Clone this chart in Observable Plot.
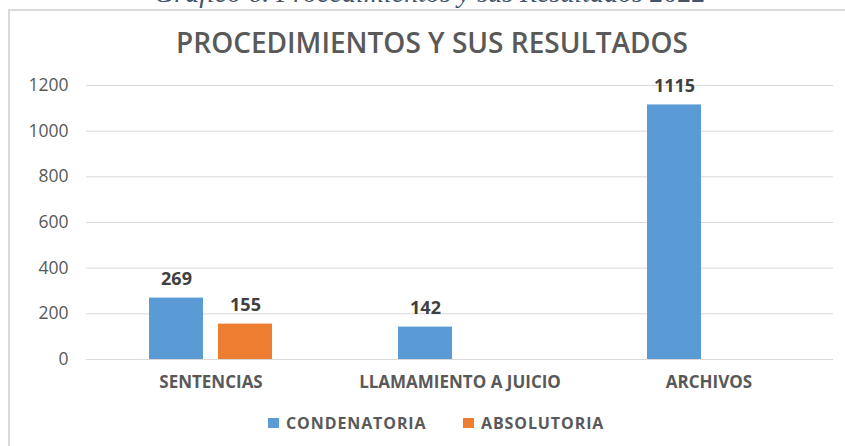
<!DOCTYPE html>
<html><head><meta charset="utf-8">
<script src="https://cdn.jsdelivr.net/npm/d3@7"></script>
<script src="https://cdn.jsdelivr.net/npm/@observablehq/plot@0.6"></script>
<style>
body{margin:0;background:#fff;font-family:"Open Sans",sans-serif;}
#page{position:relative;width:845px;height:446px;overflow:hidden;background:#fff;}
#caption{position:absolute;left:0;width:860px;text-align:center;top:-23px;font-family:"Liberation Serif",serif;font-style:italic;font-size:28px;color:#44546a;white-space:nowrap;}
#frame{position:absolute;left:8px;top:9px;width:900px;height:500px;border-left:2px solid #d9d9d9;border-top:2px solid #d9d9d9;}
#title{position:absolute;left:0;width:864px;text-align:center;top:25px;font-size:28px;line-height:34px;font-weight:600;color:#595959;white-space:nowrap;}
#chart{position:absolute;left:0;top:0;}
#legend{position:absolute;top:412px;left:0;width:845px;height:22px;}
.item{position:absolute;top:0;display:flex;align-items:center;height:22px;font-size:16px;font-weight:700;color:#595959;letter-spacing:0.9px;white-space:nowrap;}
.sw{width:11px;height:10px;margin-right:7px;}
</style></head>
<body>
<div id="page">
<div id="caption">Gráfico 6. Procedimientos y sus Resultados 2022</div>
<div id="frame"></div>
<div id="title">PROCEDIMIENTOS Y SUS RESULTADOS</div>
<div id="chart"></div>
<div id="legend"></div>
</div>
<script>
const categories = ["SENTENCIAS", "LLAMAMIENTO A JUICIO", "ARCHIVOS"];
const series = ["CONDENATORIA", "ABSOLUTORIA"];
const condenatoria = [269, 142, 1115];
const absolutoria = [155, null, null];
const yTicks = [0, 200, 400, 600, 800, 1000, 1200];
const colors = ["#5b9bd5", "#ed7d31"];

const values = [condenatoria, absolutoria];
const data = categories.flatMap((c, i) => series.map((s, j) => ({cat: c, serie: s, value: values[j][i]})))
  .filter(d => d.value != null);

const chart = Plot.plot({
  width: 845,
  height: 400,
  marginLeft: 86,
  marginRight: 12,
  marginTop: 85,
  marginBottom: 41,
  style: {background: "transparent", fontFamily: "'Open Sans', sans-serif"},
  fx: {domain: categories, padding: 0, label: null},
  x: {domain: series, paddingInner: 0.214, paddingOuter: 0.886, axis: null},
  y: {domain: [0, 1200], label: null},
  color: {domain: series, range: colors},
  marks: [
    Plot.gridY(yTicks, {stroke: "#d9d9d9", strokeOpacity: 1, strokeWidth: 1}),
    Plot.axisY(yTicks, {tickSize: 0, tickPadding: 18, tickFormat: d => String(d), label: null, fontSize: 17.5, fill: "#595959"}),
    Plot.axisFx({anchor: "bottom", tickSize: 0, tickPadding: 16, label: null, fontSize: 17, fontWeight: 700, fill: "#595959"}),
    Plot.barY(data, {fx: "cat", x: "serie", y: "value", fill: "serie"}),
    Plot.text(data, {fx: "cat", x: "serie", y: "value", text: d => String(d.value), dy: -19, fontSize: 18, fontWeight: 700, fill: "#404040"})
  ]
});
document.getElementById("chart").appendChild(chart);

const legend = document.getElementById("legend");
const legendX = [268, 463];
series.forEach((s, i) => {
  const it = document.createElement("div");
  it.className = "item";
  it.style.left = legendX[i] + "px";
  const sw = document.createElement("span");
  sw.className = "sw";
  sw.style.background = colors[i];
  it.appendChild(sw);
  it.appendChild(document.createTextNode(s));
  legend.appendChild(it);
});
</script>
</body></html>
